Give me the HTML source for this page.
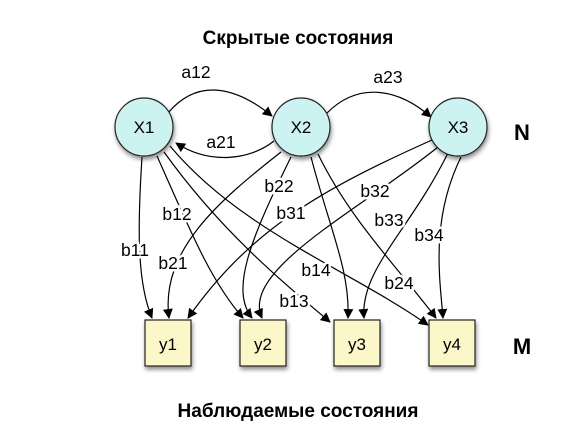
<!DOCTYPE html>
<html><head><meta charset="utf-8"><style>
html,body{margin:0;padding:0;background:#fff;width:578px;height:437px;overflow:hidden}
svg{display:block}
text{font-family:"Liberation Sans",sans-serif}
</style></head><body>
<svg width="578" height="437" viewBox="0 0 578 437">
<defs>
<marker id="a" viewBox="0 0 10 10" refX="9" refY="5" markerWidth="10" markerHeight="10" markerUnits="userSpaceOnUse" orient="auto"><path d="M0,0L10,5L0,10z" fill="#000"/></marker>
<filter id="s" x="-20%" y="-20%" width="150%" height="150%"><feDropShadow dx="1" dy="3" stdDeviation="2" flood-opacity="0.45"/></filter>
</defs>
<text x="298" y="44" font-size="19" font-weight="bold" text-anchor="middle">Скрытые состояния</text>
<text x="298" y="417" font-size="19" font-weight="bold" text-anchor="middle">Наблюдаемые состояния</text>
<text x="522" y="140" font-size="22" font-weight="bold" text-anchor="middle">N</text>
<text x="522" y="354" font-size="22" font-weight="bold" text-anchor="middle">M</text>
<g fill="none" stroke="#000" stroke-width="1.2" marker-end="url(#a)">
<path d="M168,113 C200,75 240,90 272,116"/>
<path d="M327,113 C360,80 400,90 431,117"/>
<path d="M274,141 C250,160 210,165 176,143"/>
<path d="M142,157 C138,220 136,280 152,318"/>
<path d="M157,156 C190,230 210,280 243,318"/>
<path d="M164,152 C220,230 280,280 330,322"/>
<path d="M170,146 C240,230 350,270 428,325"/>
<path d="M281,152 C220,200 160,250 169,318"/>
<path d="M291,157 C250,240 230,290 252,318"/>
<path d="M311,157 C330,230 350,270 348,318"/>
<path d="M318,154 C350,220 400,270 436,318"/>
<path d="M432,140 C320,190 250,230 188,318"/>
<path d="M438,147 C360,210 240,270 262,318"/>
<path d="M448,153 C410,230 360,270 364,318"/>
<path d="M461,157 C430,220 440,280 443,318"/>
</g>
<g font-size="17.5" text-anchor="middle">
<text x="196" y="78">a12</text><text x="388" y="83">a23</text><text x="221" y="148">a21</text>
</g>
<g font-size="17.5" text-anchor="middle" stroke="#fff" stroke-width="5" paint-order="stroke">
<text x="135" y="256">b11</text><text x="177" y="220">b12</text><text x="294" y="307">b13</text>
<text x="316" y="276">b14</text><text x="173" y="269">b21</text><text x="279" y="192">b22</text>
<text x="399" y="289">b24</text><text x="291" y="219">b31</text><text x="375" y="197">b32</text>
<text x="389" y="226">b33</text><text x="429" y="241">b34</text>
</g>
<g fill="#cdf2f2" stroke="#222" stroke-width="1.2" filter="url(#s)">
<circle cx="144" cy="127" r="29"/><circle cx="301" cy="127" r="29"/><circle cx="458" cy="127" r="29"/>
</g>
<g fill="#fbf7c8" stroke="#222" stroke-width="1.2" filter="url(#s)">
<rect x="145" y="320" width="46" height="46"/><rect x="240" y="320" width="46" height="46"/>
<rect x="334" y="320" width="46" height="46"/><rect x="429" y="320" width="46" height="46"/>
</g>
<g font-size="17" text-anchor="middle">
<text x="144" y="133">X1</text><text x="301" y="133">X2</text><text x="458" y="133">X3</text>
<text x="168" y="350">y1</text><text x="263" y="350">y2</text><text x="357" y="350">y3</text><text x="452" y="350">y4</text>
</g>
</svg>
</body></html>
